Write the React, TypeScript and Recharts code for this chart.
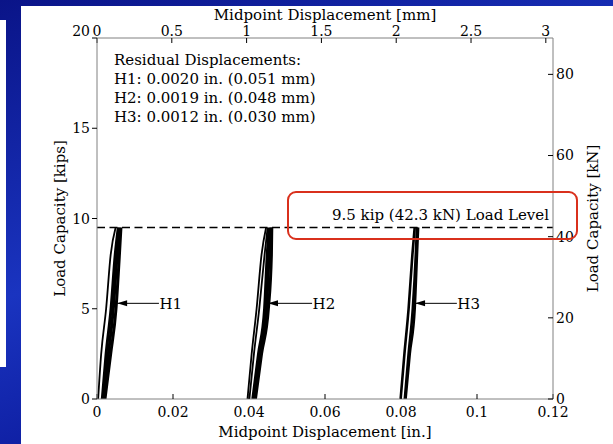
import { LineChart, Line, XAxis, YAxis, ReferenceLine } from 'recharts';

const FONT = '"DejaVu Serif", serif';

// axes
const IN_TICKS = [0, 0.02, 0.04, 0.06, 0.08, 0.1, 0.12];
const MM_TICKS = [0, 0.5, 1, 1.5, 2, 2.5, 3];
const KIP_TICKS = [0, 5, 10, 15, 20];
const KN_TICKS = [0, 20, 40, 60, 80];
const IN_MAX = 0.12;
const MM_PER_IN = 25.4;
const MM_MAX = IN_MAX * MM_PER_IN;
const KIP_MAX = 20;
const KN_MAX = 88.96; // 20 kip
const LOAD_LEVEL = 9.5;

const LOAD_STEPS = [0, 2.5, 5, 8, 9.5];

// H1 - displacement [in.] at each load step
const H1_FIRST = [0.0003, 0.0011, 0.0024, 0.0036, 0.0049];
const H1_CYCLE_A = [0.0014, 0.0024, 0.0037, 0.0048, 0.0056];
const H1_CYCLE_B = [0.0017, 0.003, 0.0043, 0.0053, 0.0059];
const H1_CYCLE_C = [0.0021, 0.0036, 0.005, 0.0059, 0.0063];

// H2
const H2_FIRST = [0.0396, 0.0407, 0.042, 0.0433, 0.0445];
const H2_SECOND = [0.0401, 0.0413, 0.0427, 0.0441, 0.0449];
const H2_CYCLE_A = [0.041, 0.0425, 0.0441, 0.0448, 0.0453];
const H2_CYCLE_B = [0.04135, 0.0429, 0.0446, 0.0453, 0.0457];
const H2_CYCLE_C = [0.0417, 0.0433, 0.0451, 0.0459, 0.046];

// H3
const H3_FIRST = [0.0799, 0.0809, 0.082, 0.083, 0.0836];
const H3_CYCLE_A = [0.081, 0.082, 0.0831, 0.0839, 0.0842];
const H3_CYCLE_B = [0.0812, 0.0823, 0.0836, 0.0842, 0.0845];

// callouts
const ARROW_LABELS = ['H1', 'H2', 'H3'];
const ARROW_TIP_X = [0.0053, 0.045, 0.0837];
const ARROW_TAIL_X = [0.0163, 0.0566, 0.0947];
const ARROW_LOAD = 5.3;

const RESIDUALS = [
  'Residual Displacements:',
  'H1: 0.0020 in. (0.051 mm)',
  'H2: 0.0019 in. (0.048 mm)',
  'H3: 0.0012 in. (0.030 mm)',
];

const toPoints = (xs: number[]) => LOAD_STEPS.map((y, i) => ({ x: xs[i], y }));

const CURVES = [
  { id: 'h1-first', xs: H1_FIRST, w: 1.8 },
  { id: 'h1-a', xs: H1_CYCLE_A, w: 3 },
  { id: 'h1-b', xs: H1_CYCLE_B, w: 3 },
  { id: 'h1-c', xs: H1_CYCLE_C, w: 3 },
  { id: 'h2-first', xs: H2_FIRST, w: 1.8 },
  { id: 'h2-second', xs: H2_SECOND, w: 1.8 },
  { id: 'h2-a', xs: H2_CYCLE_A, w: 3 },
  { id: 'h2-b', xs: H2_CYCLE_B, w: 3 },
  { id: 'h2-c', xs: H2_CYCLE_C, w: 3 },
  { id: 'h3-first', xs: H3_FIRST, w: 2.6 },
  { id: 'h3-a', xs: H3_CYCLE_A, w: 2.6 },
  { id: 'h3-b', xs: H3_CYCLE_B, w: 2.6 },
];

// same H1 first curve in mm, drawn invisibly so the top axis gets its scale
const MM_HELPER = toPoints(H1_FIRST).map((p) => ({ x: p.x * MM_PER_IN, y: p.y }));

const ARROWS = ARROW_LABELS.map((label, i) => ({
  id: label,
  data: [
    { x: ARROW_TIP_X[i], y: ARROW_LOAD, label: '' },
    { x: ARROW_TAIL_X[i], y: ARROW_LOAD, label },
  ],
}));

const tickStyle = { fill: '#000', fontSize: 14, fontFamily: FONT };
const textStyle = { fill: '#000', fontSize: 15, fontFamily: FONT };

// arrow head at the tip, label text at the tail
const renderArrowDot = (props: any) => {
  const { cx, cy, index, payload, key } = props;
  if (index === 0) {
    return (
      <path
        key={key}
        d={`M${cx},${cy} L${cx + 10},${cy - 3} L${cx + 10},${cy + 3} Z`}
        fill="#000"
      />
    );
  }
  return (
    <text key={key} x={cx + 0.5} y={cy + 5.5} {...textStyle}>
      {payload.label}
    </text>
  );
};

// left ticks: the top label sits a little above its tick in the original
const renderKipTick = (props: any) => {
  const { x, y, payload } = props;
  const shift = payload.value === KIP_MAX ? -7 : 0;
  return (
    <text x={x} y={y + shift} dy={5} textAnchor="end" {...tickStyle}>
      {payload.value}
    </text>
  );
};

export default function App() {
  return (
    <div
      style={{
        position: 'absolute',
        left: 0,
        top: 0,
        width: 613,
        height: 444,
        overflow: 'hidden',
        background: 'linear-gradient(160deg, #0a1488 0%, #1a34c0 45%, #0c1a9c 75%, #0a1280 100%)',
      }}
    >
      {/* white slide panel */}
      <div style={{ position: 'absolute', left: 0, top: 20, width: 6, height: 347, background: '#fff' }} />
      <div style={{ position: 'absolute', left: 21, top: 6, width: 592, height: 438, background: '#fff' }} />

      <div style={{ position: 'absolute', left: 21, top: 6 }}>
        <LineChart width={592} height={438} margin={{ top: 0, right: 0, bottom: 0, left: 0 }}>
          <XAxis
            xAxisId="in"
            type="number"
            dataKey="x"
            orientation="bottom"
            domain={[0, IN_MAX]}
            ticks={IN_TICKS}
            allowDataOverflow
            interval={0}
            height={45}
            tickSize={-5}
            tickMargin={13}
            stroke="#808080"
            tickLine={{ stroke: '#000' }}
            tick={tickStyle}
            label={{ value: 'Midpoint Displacement [in.]', position: 'insideBottom', offset: 7, ...textStyle }}
          />
          <XAxis
            xAxisId="mm"
            type="number"
            dataKey="x"
            orientation="top"
            domain={[0, MM_MAX]}
            ticks={MM_TICKS}
            allowDataOverflow
            interval={0}
            height={32}
            tickSize={-5}
            tickMargin={7}
            stroke="#808080"
            tickLine={{ stroke: '#000' }}
            tick={tickStyle}
            label={{ value: 'Midpoint Displacement [mm]', position: 'insideTop', offset: 3, ...textStyle }}
          />
          <YAxis
            yAxisId="kips"
            type="number"
            orientation="left"
            domain={[0, KIP_MAX]}
            ticks={KIP_TICKS}
            allowDataOverflow
            interval={0}
            width={76}
            tickSize={5}
            tickMargin={2}
            stroke="#808080"
            tickLine={{ stroke: '#000' }}
            tick={renderKipTick}
            label={{ value: 'Load Capacity [kips]', position: 'center', angle: -90, dx: 1, ...textStyle }}
          />
          <YAxis
            yAxisId="kN"
            type="number"
            orientation="right"
            domain={[0, KN_MAX]}
            ticks={KN_TICKS}
            allowDataOverflow
            interval={0}
            width={60}
            tickSize={-5}
            tickMargin={8}
            stroke="#808080"
            tickLine={{ stroke: '#000' }}
            tick={tickStyle}
            label={{ value: 'Load Capacity [kN]', position: 'center', angle: -90, dx: 10, ...textStyle }}
          />

          <ReferenceLine
            xAxisId="in"
            yAxisId="kips"
            y={LOAD_LEVEL}
            stroke="#000"
            strokeWidth={1.5}
            strokeDasharray="8 4.5"
            label={{
              value: '9.5 kip (42.3 kN) Load Level',
              position: 'insideBottomRight',
              offset: 7.5,
              dx: 3.5,
              ...textStyle,
            }}
          />

          <Line
            xAxisId="mm"
            yAxisId="kips"
            data={MM_HELPER}
            dataKey="y"
            stroke="none"
            dot={false}
            activeDot={false}
            isAnimationActive={false}
          />

          {CURVES.map((c) => (
            <Line
              key={c.id}
              xAxisId="in"
              yAxisId="kips"
              data={toPoints(c.xs)}
              dataKey="y"
              type="monotone"
              stroke="#000"
              strokeWidth={c.w}
              dot={false}
              activeDot={false}
              isAnimationActive={false}
            />
          ))}

          {ARROWS.map((a) => (
            <Line
              key={a.id}
              xAxisId="in"
              yAxisId="kips"
              data={a.data}
              dataKey="y"
              type="linear"
              stroke="#000"
              strokeWidth={1}
              dot={renderArrowDot}
              activeDot={false}
              isAnimationActive={false}
            />
          ))}
        </LineChart>
      </div>

      {/* residual displacement note */}
      <div
        style={{
          position: 'absolute',
          left: 114,
          top: 50.5,
          fontFamily: FONT,
          fontSize: 15,
          lineHeight: '19.3px',
          color: '#000',
          whiteSpace: 'nowrap',
        }}
      >
        {RESIDUALS.map((t) => (
          <div key={t}>{t}</div>
        ))}
      </div>

      {/* red highlight around the load level */}
      <div
        style={{
          position: 'absolute',
          left: 287,
          top: 191,
          width: 287,
          height: 45,
          border: '2.5px solid #d9301c',
          borderRadius: 9,
        }}
      />
    </div>
  );
}
